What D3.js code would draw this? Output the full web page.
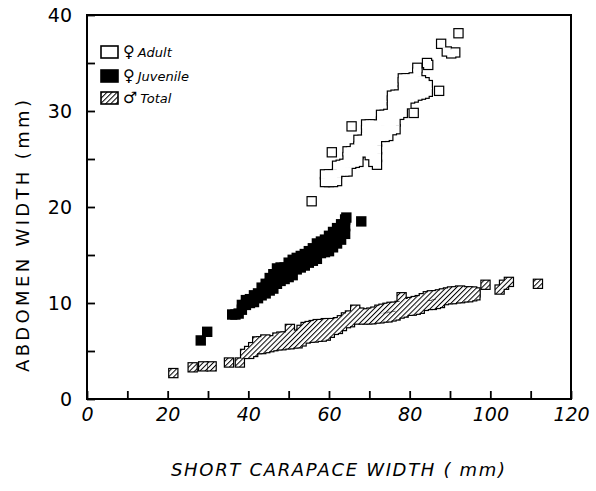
<!DOCTYPE html>
<html><head><meta charset="utf-8">
<script src="https://cdn.jsdelivr.net/npm/d3@7"></script>
<style>body{margin:0;background:#fff}</style>
</head><body>
<svg id="c" width="596" height="491"></svg>
<script>
// ---- data ----
const xTicks = [0,10,20,30,40,50,60,70,80,90,100,110,120];
const xTickLabels = [0,20,40,60,80,100,120];
const yTicks = [0,5,10,15,20,25,30,35,40];
const yTickLabels = [0,10,20,30,40];
const seriesNames = ["Adult","Juvenile","Total"];
const seriesSymbols = ["\u2640","\u2640","\u2642"];

// female adult (open squares)
const adultPoints = [
[55.7,20.6],[60.7,25.7],[65.6,28.4],[81.0,29.8],[87.3,32.1],[87.8,37.0],[92.1,38.1],
[89.2,36.2],[90.3,36.0],[91.3,36.1],[84.3,35.0],[84.6,34.8],
[59.0,22.6],[59.0,23.4],[60.0,22.6],[60.0,23.4],[61.0,22.6],[61.0,23.4],
[62.0,22.7],[62.0,23.5],[62.0,24.3],[62.9,23.7],[62.9,24.4],[63.8,23.7],[63.8,24.5],
[64.6,23.7],[64.6,24.5],[64.6,25.2],[64.6,25.8],[65.5,24.5],[65.5,25.2],[65.5,25.8],
[66.4,24.6],[66.4,25.4],[66.4,26.1],[67.3,24.7],[67.3,25.5],[67.3,26.3],[67.3,27.0],
[68.3,25.7],[68.3,26.4],[68.3,27.0],
[69.2,25.7],[69.2,26.5],[69.2,27.3],[69.2,28.0],[69.2,28.6],
[70.1,25.4],[70.1,26.2],[70.1,27.0],[70.1,27.8],[70.1,28.6],
[71.0,24.7],[71.0,25.5],[71.0,26.3],[71.0,27.1],[71.0,27.9],[71.0,28.6],
[71.9,24.4],[71.9,25.2],[71.9,26.0],[71.9,26.8],[71.9,27.6],[71.9,28.4],
[72.9,27.3],[72.9,28.1],[72.9,28.9],[72.9,29.6],[73.8,27.3],[73.8,28.1],[73.8,28.9],[73.8,29.6],
[74.7,27.4],[74.7,28.2],[74.7,29.0],[74.7,29.7],
[75.6,28.0],[75.6,28.8],[75.6,29.6],[75.6,30.4],[75.6,31.1],[75.6,31.6],
[76.5,28.1],[76.5,28.9],[76.5,29.7],[76.5,30.5],[76.5,31.2],[76.5,31.7],
[77.4,29.6],[77.4,30.4],[77.4,31.1],[77.4,31.7],
[78.3,29.8],[78.3,30.6],[78.3,31.4],[78.3,32.2],[78.3,33.0],[78.3,33.4],
[79.2,30.7],[79.2,31.5],[79.2,32.3],[79.2,33.0],[79.2,33.4],
[80.1,31.3],[80.1,32.1],[80.1,32.9],[80.1,33.4],[81.0,31.4],[81.0,32.2],[81.0,33.0],[81.0,33.5],
[81.9,31.6],[81.9,32.4],[81.9,33.2],[81.9,34.0],[81.9,34.5],
[82.8,31.7],[82.8,32.5],[82.8,33.2],[83.7,31.8],[83.7,32.6],[83.7,33.0],[84.5,32.0],[84.5,32.7]
];

// female juvenile (filled squares)
const juvenilePoints = [
[28.2,6.1],[29.8,7.0],[64.3,18.9],[68.0,18.5],
[36.0,8.8],[36.8,8.8],[37.6,8.9],[38.4,9.3],[38.4,9.8],[39.4,9.8],[39.4,10.3],
[40.4,10.0],[40.4,10.4],[41.4,10.1],[41.4,10.8],[42.4,10.5],[42.4,11.0],[43.3,10.8],[43.3,11.6],
[44.3,11.0],[44.3,11.6],[44.3,12.0],[45.3,11.3],[45.3,12.0],[45.3,12.6],
[46.2,11.5],[46.2,12.3],[46.2,13.0],[47.1,12.0],[47.1,12.8],[47.1,13.6],
[48.0,12.3],[48.0,13.0],[48.0,13.7],[49.0,12.5],[49.0,13.1],[49.0,13.7],
[50.0,12.7],[50.0,13.5],[50.0,14.2],[51.0,12.9],[51.0,13.7],[51.0,14.5],
[52.0,13.5],[52.0,14.1],[52.0,14.7],[53.0,13.7],[53.0,14.3],[53.0,14.9],
[54.0,13.9],[54.0,14.5],[54.0,15.1],[55.0,14.2],[55.0,14.8],[55.0,15.4],
[56.0,14.4],[56.0,15.0],[56.0,15.7],[57.0,14.6],[57.0,15.4],[57.0,16.2],
[58.0,15.2],[58.0,15.8],[58.0,16.4],[59.0,15.3],[59.0,16.0],[59.0,16.6],
[60.0,15.4],[60.0,16.2],[60.0,17.0],[61.0,15.8],[61.0,16.6],[61.0,17.4],
[62.0,16.2],[62.0,17.0],[62.0,17.8],[63.0,16.6],[63.0,17.4],[63.0,18.2],
[64.0,17.2],[64.0,18.0],[64.0,18.7]
];

// male total (hatched squares)
const malePoints = [
[21.4,2.7],[26.2,3.3],[28.8,3.4],[30.9,3.4],[35.2,3.8],[37.9,3.8],[50.3,7.3],[78.0,10.6],
[98.8,11.9],[102.3,11.4],[103.4,11.9],[104.6,12.2],[111.8,12.0],
[39.2,4.7],[40.2,4.7],[40.2,5.0],[41.2,4.9],[41.2,5.4],[42.2,5.2],[42.2,6.0],[43.2,5.2],[43.2,6.0],
[44.2,5.3],[44.2,6.2],[45.2,5.4],[45.2,6.1],[46.2,5.5],[46.2,6.1],[47.2,5.6],[47.2,6.4],
[48.2,5.6],[48.2,6.5],[49.2,5.7],[49.2,6.5],[50.2,5.7],[50.2,6.5],[51.2,5.8],[51.2,6.6],
[52.2,5.8],[52.2,6.7],[53.2,6.0],[53.2,6.8],[53.2,7.2],[54.2,6.3],[54.2,7.1],[54.2,7.5],
[55.2,6.4],[55.2,7.0],[55.2,7.6],[56.2,6.4],[56.2,7.0],[56.2,7.7],[57.2,6.5],[57.2,7.1],[57.2,7.8],
[58.2,6.5],[58.2,7.2],[58.2,7.8],[59.2,6.6],[59.2,7.3],[59.2,7.9],[60.2,6.9],[60.2,7.5],[60.2,7.9],
[61.2,7.2],[61.2,7.9],[62.2,7.3],[62.2,8.0],[63.2,7.6],[63.2,8.2],[64.2,7.9],[64.2,8.5],
[65.2,8.0],[65.2,8.7],[66.5,8.3],[66.5,9.0],[66.5,9.3],[67.5,8.3],[67.5,9.0],[68.5,8.3],[68.5,8.9],
[69.5,8.3],[69.5,8.9],[70.5,8.3],[70.5,9.0],[71.5,8.4],[71.5,9.1],[72.5,8.4],[72.5,9.3],
[73.5,8.5],[73.5,9.4],[74.5,8.5],[74.5,9.5],[75.5,8.6],[75.5,9.6],[76.5,8.7],[76.5,9.6],
[77.5,8.9],[77.5,9.7],[78.5,9.0],[78.5,9.8],[79.5,9.2],[79.5,10.0],[80.5,9.2],[80.5,10.1],
[81.5,9.3],[81.5,10.2],[82.5,9.4],[82.5,10.3],[83.5,9.7],[83.5,10.5],[84.5,9.8],[84.5,10.7],
[85.5,9.8],[85.5,10.8],[86.5,9.9],[86.5,10.8],[87.5,10.0],[87.5,10.9],[88.5,10.3],[88.5,11.0],
[89.5,10.4],[89.5,11.1],[90.5,10.4],[90.5,11.2],[91.5,10.5],[91.5,11.2],[92.5,10.5],[92.5,11.3],
[93.5,10.6],[93.5,11.2],[94.5,10.6],[94.5,11.2],[95.5,10.7],[95.5,11.2],[96.3,10.8],[96.3,11.1]
];

// ---- drawing ----
const L = 87, R = 571, T = 15, B = 399;
const svg = d3.select("#c");
const FONT = "'DejaVu Sans', sans-serif";

const x = d3.scaleLinear().domain([0,120]).range([L,R]);
const y = d3.scaleLinear().domain([0,40]).range([B,T]);

const defs = svg.append("defs");
const pat = defs.append("pattern").attr("id","hatch").attr("patternUnits","userSpaceOnUse")
  .attr("width",3.6).attr("height",3.6).attr("patternTransform","rotate(45)");
pat.append("rect").attr("width",3.6).attr("height",3.6).attr("fill","#fff");
pat.append("line").attr("x1",0).attr("y1",-1).attr("x2",0).attr("y2",5)
  .attr("stroke","#000").attr("stroke-width",2);

// axes
const xAxis = d3.axisBottom(x).tickValues(xTicks).tickSizeInner(-8).tickSizeOuter(0).tickPadding(9)
  .tickFormat(d => xTickLabels.includes(d) ? String(d) : "");
const gx = svg.append("g").attr("transform",`translate(0,${B})`).call(xAxis);
gx.select(".domain").remove();
gx.selectAll(".tick line").attr("stroke","#000").attr("stroke-width",1.8);
gx.selectAll(".tick text").attr("font-family",FONT).attr("font-size",19).attr("font-style","italic").attr("fill","#000");

const yAxis = d3.axisLeft(y).tickValues(yTicks).tickSizeInner(-8).tickSizeOuter(0).tickPadding(15)
  .tickFormat(d => yTickLabels.includes(d) ? String(d) : "");
const gy = svg.append("g").attr("transform",`translate(${L},0)`).call(yAxis);
gy.select(".domain").remove();
gy.selectAll(".tick line").attr("stroke","#000").attr("stroke-width",1.8);
gy.selectAll(".tick text").attr("font-family",FONT).attr("font-size",19).attr("fill","#000");

// frame
svg.append("rect").attr("x",L).attr("y",T).attr("width",R-L).attr("height",B-T)
  .attr("fill","none").attr("stroke","#000").attr("stroke-width",2);

// markers: outline layer then fill layer -> union outline
const S = 8, SW = 2.4;
function unionLayer(pts, fill){
  const g = svg.append("g");
  g.selectAll("rect.o").data(pts).join("rect").attr("class","o")
    .attr("x",d=>x(d[0])-S/2).attr("y",d=>y(d[1])-S/2).attr("width",S).attr("height",S)
    .attr("fill","#000").attr("stroke","#000").attr("stroke-width",SW);
  g.selectAll("rect.f").data(pts).join("rect").attr("class","f")
    .attr("x",d=>x(d[0])-S/2).attr("y",d=>y(d[1])-S/2).attr("width",S).attr("height",S)
    .attr("fill",fill);
}
unionLayer(adultPoints,"#fff");
unionLayer(malePoints,"url(#hatch)");
svg.append("g").selectAll("rect").data(juvenilePoints).join("rect")
  .attr("x",d=>x(d[0])-S/2).attr("y",d=>y(d[1])-S/2).attr("width",S).attr("height",S)
  .attr("fill","#000").attr("stroke","#000").attr("stroke-width",SW);

// legend
const legY = [52,76,98];
const legFill = ["#fff","#000","url(#hatch)"];
const lg = svg.append("g");
seriesNames.forEach((n,i)=>{
  lg.append("rect").attr("x",101).attr("y",legY[i]-6).attr("width",17).attr("height",12)
    .attr("fill",legFill[i]).attr("stroke","#000").attr("stroke-width",1.6);
  const t = lg.append("text").attr("x",123).attr("y",legY[i]+5)
    .attr("font-family",FONT).attr("font-size",14).attr("fill","#000");
  t.append("tspan").attr("font-size",16).text(seriesSymbols[i]);
  t.append("tspan").attr("dx",3).attr("font-style","italic").attr("font-size",13).text(n);
});

// axis titles
svg.append("text").attr("x",338).attr("y",476).attr("text-anchor","middle")
  .attr("font-family",FONT).attr("font-size",18).attr("font-style","italic")
  .attr("textLength",334).attr("lengthAdjust","spacing")
  .text("SHORT  CARAPACE  WIDTH ( mm)");
svg.append("text").attr("transform","translate(29,236) rotate(-90)").attr("text-anchor","middle")
  .attr("font-family",FONT).attr("font-size",18)
  .attr("textLength",272).attr("lengthAdjust","spacing")
  .text("ABDOMEN  WIDTH (mm)");
</script>
</body></html>
